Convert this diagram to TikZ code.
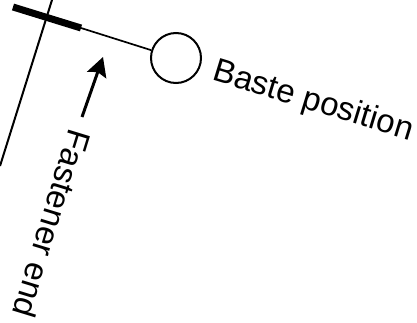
\documentclass[tikz,border=0pt]{standalone}
\usepackage{fontspec}
\setmainfont{Liberation Sans}
\usetikzlibrary{arrows.meta}
\begin{document}
\begin{tikzpicture}[x=0.5pt,y=-0.5pt]
            \tikzstyle{notetext}=[font=\fontsize{16.5}{19}\selectfont, inner sep=0pt]
            \tikzstyle{baste}=[draw, circle, line width=1pt, minimum size=25pt, inner sep=0pt]
            \useasboundingbox (0,0) rectangle (417,322);
            \coordinate (edgetop) at (52,0);
            \coordinate (edgebot) at (0,166);
            \coordinate (barl) at (13,7);
            \coordinate (barr) at (81,28);
            \coordinate (arrowtail) at (82,117);
            \coordinate (arrowtip) at (103,57);
            \node[baste] (bastept) at (176,58) {};
            \node[notetext, rotate=-17] (bastetext) at (313,102) {Baste position};
            \node[notetext, rotate=-107] (endtext) at (52,224) {Fastener end};
            \draw[line width=1pt] (edgetop) -- (edgebot);
            \draw[line width=3.5pt] (barl) -- (barr);
            \draw[line width=0.85pt] (barr) -- (bastept);
            \draw[line width=1.5pt, -{Stealth[length=9.5pt,width=10pt,inset=1.5pt]}] (arrowtail) -- (arrowtip);
        \end{tikzpicture}
\end{document}
